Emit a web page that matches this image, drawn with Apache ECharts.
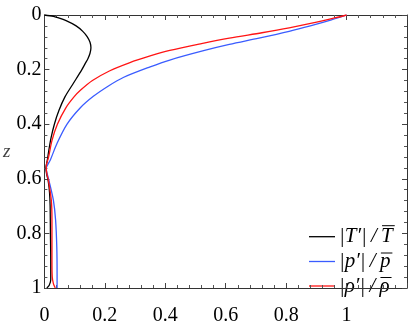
<!DOCTYPE html>
<html>
<head>
<meta charset="utf-8">
<script src="https://cdn.jsdelivr.net/npm/echarts@6/dist/echarts.min.js"></script>
<style>
  html, body { margin: 0; padding: 0; background: #fff; }
  #chart { width: 414px; height: 326px; }
</style>
</head>
<body>
<div id="chart"></div>
<script>
// 读图估计的数据 (z 为竖轴)
const zT = [0, 0.005, 0.01, 0.02, 0.04, 0.06, 0.08, 0.10, 0.12, 0.14, 0.16, 0.18, 0.20, 0.25, 0.30, 0.35, 0.40, 0.45, 0.50, 0.53, 0.56, 0.58, 0.61, 0.65, 0.70, 0.80, 0.90, 0.97, 0.99, 1];
const tempVals = [0, 0.03, 0.045, 0.07, 0.105, 0.127, 0.142, 0.151, 0.154, 0.151, 0.144, 0.134, 0.124, 0.096, 0.068, 0.048, 0.033, 0.022, 0.014, 0.010, 0.005, 0.007, 0.013, 0.017, 0.019, 0.020, 0.021, 0.021, 0.016, 0.008];

const zP = [0, 0.018, 0.04, 0.06, 0.085, 0.108, 0.13, 0.165, 0.19, 0.229, 0.26, 0.298, 0.34, 0.40, 0.47, 0.53, 0.563, 0.585, 0.61, 0.68, 0.75, 0.85, 0.95, 1];
const presVals = [1, 0.95, 0.88, 0.81, 0.71, 0.612, 0.53, 0.415, 0.35, 0.261, 0.212, 0.162, 0.119, 0.075, 0.042, 0.020, 0.006, 0.010, 0.016, 0.030, 0.037, 0.041, 0.042, 0.042];

const zR = [0, 0.01, 0.03, 0.047, 0.065, 0.085, 0.105, 0.13, 0.15, 0.175, 0.205, 0.24, 0.275, 0.30, 0.34, 0.40, 0.46, 0.52, 0.556, 0.58, 0.61, 0.68, 0.75, 0.90, 0.96, 0.985, 1];
const rhoVals = [1, 0.964, 0.885, 0.81, 0.72, 0.612, 0.52, 0.415, 0.350, 0.281, 0.215, 0.159, 0.120, 0.098, 0.071, 0.043, 0.025, 0.014, 0.006, 0.008, 0.014, 0.023, 0.025, 0.025, 0.026, 0.030, 0.036];

// 图例: 前半部分 + 带上横线的字母
const legendHead = ['|T\u2032|\u2009/\u2009', '|p\u2032|\u2009/\u2009', '|\u03C1\u2032|\u2009/\u2009'];
const legendBar = ['T', 'p', '\u03C1'];
const seriesNames = ['|T\u2032|/T', '|p\u2032|/p', '|\u03C1\u2032|/\u03C1'];
const seriesColors = ['#000000', '#3a5cff', '#ff1414'];

const pairs = (xs, zs) => xs.map((v, i) => [v, zs[i]]);

const serif = '"Liberation Serif", "DejaVu Serif", serif';

const chart = echarts.init(document.getElementById('chart'));

const baseX = {
  type: 'value', min: 0, max: 1.2, interval: 0.2,
  axisLine: { show: true, onZero: false, lineStyle: { color: '#333', width: 1 } },
  axisTick: { show: true, inside: true, length: 5, lineStyle: { color: '#444' } },
  minorTick: { show: true, splitNumber: 5, length: 3, lineStyle: { color: '#555' } },
  splitLine: { show: false }
};
const baseY = {
  type: 'value', min: 0, max: 1, interval: 0.2, inverse: true,
  axisLine: { show: true, onZero: false, lineStyle: { color: '#333', width: 1 } },
  axisTick: { show: true, inside: true, length: 5, lineStyle: { color: '#444' } },
  minorTick: { show: true, splitNumber: 5, length: 3, lineStyle: { color: '#555' } },
  splitLine: { show: false }
};

// 手画图例
const legendFont = 'italic 21px ' + serif;
const ctx = document.createElement('canvas').getContext('2d');
ctx.font = legendFont;
const legendEls = [];
const rowY = [236.7, 261.5, 286];
const overOff = [-11, -8.5, -8.5];
seriesNames.forEach((name, i) => {
  const y = rowY[i];
  const tx = 339;
  const headW = ctx.measureText(legendHead[i]).width;
  const barW = ctx.measureText(legendBar[i]).width;
  legendEls.push({
    type: 'line', silent: true,
    shape: { x1: 309, y1: y, x2: 335, y2: y },
    style: { stroke: seriesColors[i], lineWidth: 1.3 }
  });
  legendEls.push({
    type: 'text', silent: true, x: tx, y: y,
    style: { text: legendHead[i] + legendBar[i], font: legendFont, fill: '#000', verticalAlign: 'middle' }
  });
  legendEls.push({
    type: 'line', silent: true,
    shape: { x1: tx + headW + 1, y1: y + overOff[i], x2: tx + headW + barW + 2, y2: y + overOff[i] },
    style: { stroke: '#000', lineWidth: 1 }
  });
});

const option = {
  animation: false,
  grid: { left: 44, right: 7, top: 15, bottom: 24, containLabel: false },
  xAxis: [
    Object.assign({}, baseX, {
      position: 'bottom',
      axisLabel: {
        color: '#000', fontFamily: serif, fontSize: 20, margin: 18,
        formatter: v => (v > 1.1 ? '' : String(+v.toFixed(1)))
      }
    }),
    Object.assign({}, baseX, { position: 'top', axisLabel: { show: false } })
  ],
  yAxis: [
    Object.assign({}, baseY, {
      position: 'left',
      name: 'z',
      nameLocation: 'middle',
      nameRotate: 0,
      nameGap: 34,
      nameTextStyle: { color: '#444', fontFamily: serif, fontStyle: 'italic', fontSize: 19, padding: [0, 0, 8, 0] },
      axisLabel: { color: '#000', fontFamily: serif, fontSize: 20, margin: 3,
        formatter: v => String(+v.toFixed(1)) }
    }),
    Object.assign({}, baseY, { position: 'right', axisLabel: { show: false } })
  ],
  graphic: legendEls,
  series: [
    { name: seriesNames[0], type: 'line', data: pairs(tempVals, zT), color: seriesColors[0] },
    { name: seriesNames[1], type: 'line', data: pairs(presVals, zP), color: seriesColors[1] },
    { name: seriesNames[2], type: 'line', data: pairs(rhoVals, zR), color: seriesColors[2] }
  ].map(s => Object.assign(s, {
    showSymbol: false, symbol: 'none', smooth: 0.3, clip: false,
    lineStyle: { width: 1.3, color: s.color }
  }))
};

option && chart.setOption(option);
</script>
</body>
</html>
